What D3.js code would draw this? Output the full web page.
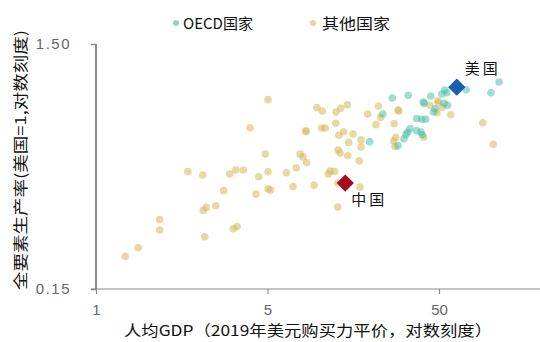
<!DOCTYPE html>
<html><head><meta charset="utf-8">
<script src="https://cdn.jsdelivr.net/npm/d3@7"></script>
<style>
html,body{margin:0;padding:0;background:#fff;}
svg{display:block;}
</style></head>
<body>
<svg id="chart" width="540" height="342"></svg>
<script>
// ---- data ----
const otherGDP = [1.48,1.76,2.35,2.35,3.43,4.19,4.22,4.40,4.30,4.99,5.56,6.02,6.53,7.23,6.32,6.64,7.91,8.57,8.89,9.71,10.07,10.07,10.07,10.4,19.4,20.9,25.1,26.7,29.2,44.3,38.4,45.7,57.7,58.2,42.9,54.7,25.0,20.7,21.7,16.7,16.8,27.8,31.5,26.1,35.1,29.7,35.1,55.9,54.4,55.4,25.8,26.5,29.4,15.5,16.1,16.9,34.3,14.7,12.9,23.2,22.6,24.6,25.7,34.6,18.7,14.1,25.7,98.3,99.1,88.7,104.5,97.3,117,180,81.4,207];
const otherTFP = [0.204,0.221,0.288,0.261,0.452,0.438,0.314,0.323,0.245,0.328,0.378,0.442,0.459,0.459,0.264,0.270,0.683,0.366,0.431,0.533,0.889,0.451,0.384,0.380,0.825,0.799,0.792,0.820,0.848,0.837,0.777,0.753,0.807,0.799,0.703,0.709,0.712,0.681,0.681,0.664,0.658,0.658,0.644,0.636,0.609,0.595,0.570,0.624,0.603,0.572,0.554,0.538,0.525,0.533,0.519,0.492,0.500,0.469,0.447,0.455,0.442,0.453,0.406,0.391,0.398,0.393,0.324,0.880,0.864,0.843,0.828,0.787,0.771,0.716,0.624,0.585];
const oecdGDP = [53.4,66.2,47.0,39.4,57.7,62.5,64.2,65.7,67.8,74.1,79.3,83.6,74.1,78.5,79.9,81.0,82.1,89.5,94.8,93.1,104,111,108,107,112,144,201,224];
const oecdTFP = [0.903,0.927,0.777,0.599,0.576,0.616,0.641,0.656,0.677,0.744,0.739,0.739,0.664,0.656,0.639,0.870,0.858,0.920,0.816,0.792,0.938,0.949,0.974,0.860,0.843,0.976,0.949,1.050];
const highlightNames = ["美国","中国"];
const highlightGDP = [127, 28.4];
const highlightTFP = [1.0, 0.406];
const xTickValues = [1, 10, 100];
const xTickLabels = ["1", "5", "50"];
const yTickValues = [0.15, 1.5];
const yTickLabels = ["0.15", "1.50"];
const legendNames = ["OECD国家", "其他国家"];

// ---- style ----
const oecdColor = "#45b9a2", otherColor = "#d4b85a";
const hlColors = ["#1a5fab", "#a50d1e"];
const cjk = "'Noto Sans CJK SC','Noto Sans',sans-serif";

const svg = d3.select("#chart");
const x = d3.scaleLog().domain([1, 100]).range([96, 439]);
const y = d3.scaleLog().domain([0.15, 1.5]).range([289, 44]);

// axes
const yAxis = svg.append("g").attr("transform", "translate(96,0)")
  .call(d3.axisLeft(y).tickValues(yTickValues).tickFormat((d,i)=>yTickLabels[i]).tickSize(5).tickPadding(20));
yAxis.select(".domain").attr("stroke", "#8c8c8c").attr("stroke-width", 2).attr("d", `M0,${y(1.5)}V${y(0.15)}`);
yAxis.selectAll(".tick line").attr("stroke", "#8c8c8c").attr("stroke-width", 1.5);
yAxis.selectAll(".tick text").attr("fill", "#666").style("font-family", "'Liberation Sans',Arial,sans-serif").style("font-size", "15px").attr("letter-spacing", "1.5px");

const xAxis = svg.append("g").attr("transform", "translate(0,289)")
  .call(d3.axisBottom(x).tickValues(xTickValues).tickFormat((d,i)=>xTickLabels[i]).tickSize(5).tickPadding(10).tickSizeOuter(0));
xAxis.select(".domain").attr("stroke", "#8c8c8c").attr("stroke-width", 1.2).attr("d", `M${x(1)-5},0H540`);
xAxis.selectAll(".tick line").attr("stroke", "#8c8c8c").attr("stroke-width", 1.2);
xAxis.selectAll(".tick text").attr("fill", "#666").style("font-family", "'Liberation Sans',Arial,sans-serif").style("font-size", "15px");

// axis titles
svg.append("text").attr("x", 308).attr("y", 336).attr("text-anchor", "middle")
  .attr("textLength", 368).attr("lengthAdjust", "spacingAndGlyphs")
  .style("font-family", cjk).style("font-size", "15px").attr("fill", "#111")
  .text("人均GDP（2019年美元购买力平价，对数刻度）");
svg.append("text").attr("transform", "translate(26,160) rotate(-90)").attr("text-anchor", "middle")
  .attr("textLength", 260).attr("lengthAdjust", "spacingAndGlyphs")
  .style("font-family", cjk).style("font-size", "15px").attr("fill", "#111")
  .text("全要素生产率(美国=1,对数刻度)");

// points
const r = 3.8;
svg.append("g").selectAll("circle").data(otherGDP.map((g,i)=>[g, otherTFP[i]])).join("circle")
  .attr("cx", d=>x(d[0])).attr("cy", d=>y(d[1])).attr("r", r)
  .attr("fill", otherColor).attr("fill-opacity", 0.55);
svg.append("g").selectAll("circle").data(oecdGDP.map((g,i)=>[g, oecdTFP[i]])).join("circle")
  .attr("cx", d=>x(d[0])).attr("cy", d=>y(d[1])).attr("r", r)
  .attr("fill", oecdColor).attr("fill-opacity", 0.5);

// highlighted countries
const sq = d3.symbol().type(d3.symbolSquare).size(150);
const hl = svg.append("g").selectAll("g").data(highlightNames.map((n,i)=>({n, g: highlightGDP[i], t: highlightTFP[i], c: hlColors[i]}))).join("g")
  .attr("transform", d=>`translate(${x(d.g)},${y(d.t)})`);
hl.append("path").attr("d", sq).attr("transform", "rotate(45)").attr("fill", d=>d.c);
hl.append("text").attr("x", (d,i)=> i===0 ? 26 : 24).attr("y", (d,i)=> i===0 ? -13 : 22)
  .attr("text-anchor", "middle").style("font-family", cjk).style("font-size", "15px").attr("fill", "#111")
  .attr("letter-spacing", "3px")
  .text(d=>d.n);

// legend
const lg = svg.append("g");
const legX = [176, 313], legTX = [183, 322], legW = [70, 68];
[oecdColor, otherColor].forEach((c,i)=>{
  lg.append("circle").attr("cx", legX[i]).attr("cy", 23).attr("r", 3).attr("fill", c).attr("fill-opacity", 0.6);
  lg.append("text").attr("x", legTX[i]).attr("y", 28.5).attr("textLength", legW[i]).attr("lengthAdjust", "spacingAndGlyphs")
    .style("font-family", cjk).style("font-size", "15px").attr("fill", "#111").text(legendNames[i]);
});
</script>
</body></html>
